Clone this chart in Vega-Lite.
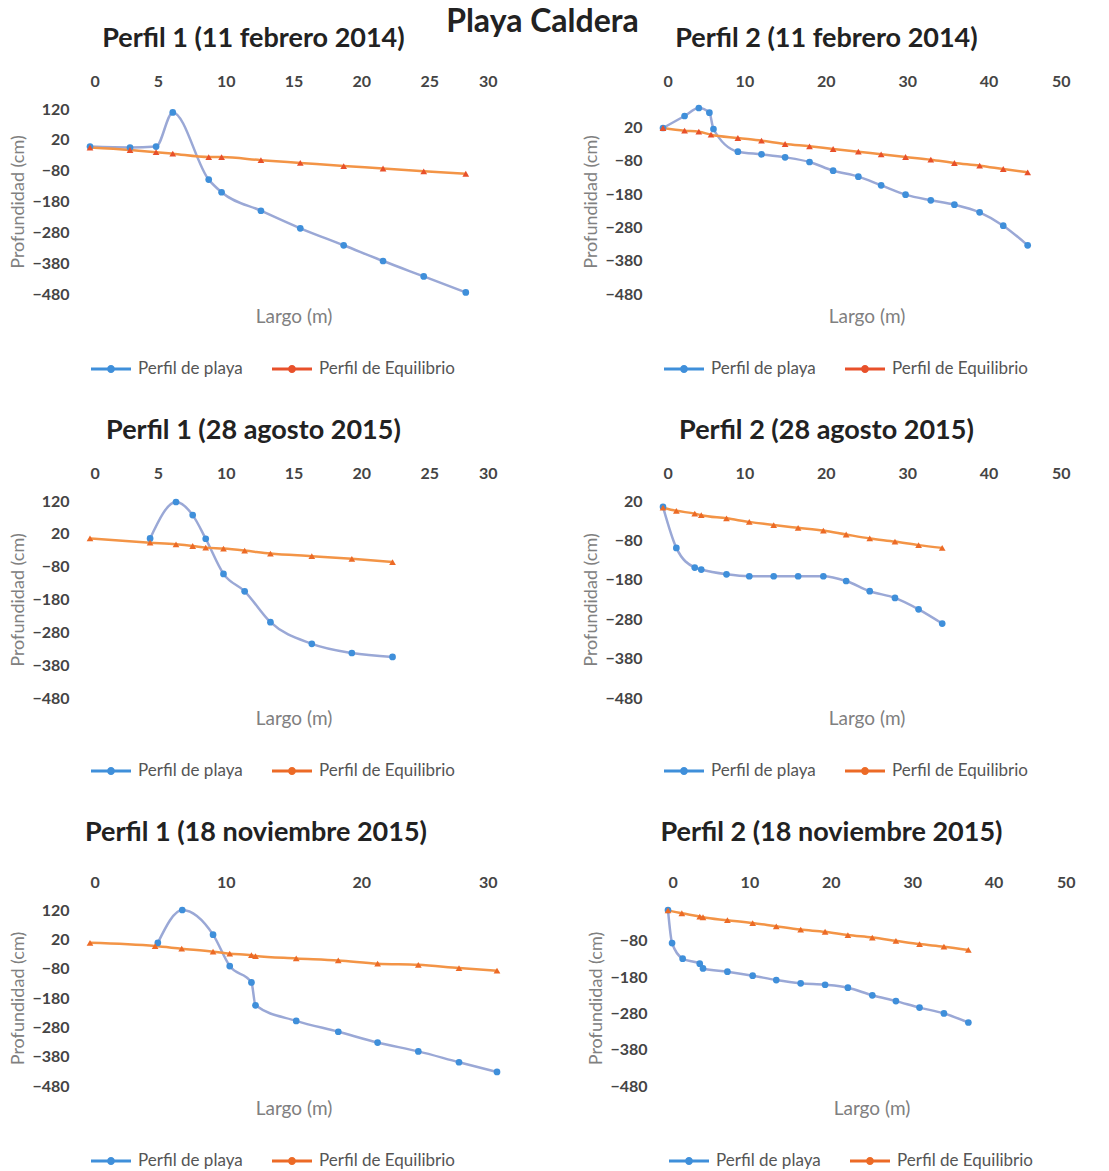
{
  "$schema": "https://vega.github.io/schema/vega-lite/v6.json",
  "padding": {"top": 6, "left": 9, "right": 5, "bottom": 2},
  "title": {"text": "Playa Caldera", "fontSize": 32, "font": "Lato", "fontWeight": "bold", "color": "#222", "anchor": "middle", "frame": "bounds", "offset": -14},
  "data": {"values": [
    {"p":1,"serie":"Perfil de playa","largo":0,"prof":-2},
    {"p":1,"serie":"Perfil de playa","largo":2.95,"prof":-5},
    {"p":1,"serie":"Perfil de playa","largo":4.87,"prof":-2},
    {"p":1,"serie":"Perfil de playa","largo":6.1,"prof":109},
    {"p":1,"serie":"Perfil de playa","largo":8.75,"prof":-109},
    {"p":1,"serie":"Perfil de playa","largo":9.7,"prof":-150},
    {"p":1,"serie":"Perfil de playa","largo":12.6,"prof":-210},
    {"p":1,"serie":"Perfil de playa","largo":15.5,"prof":-267},
    {"p":1,"serie":"Perfil de playa","largo":18.7,"prof":-322},
    {"p":1,"serie":"Perfil de playa","largo":21.6,"prof":-373},
    {"p":1,"serie":"Perfil de playa","largo":24.6,"prof":-423},
    {"p":1,"serie":"Perfil de playa","largo":27.7,"prof":-475},
    {"p":1,"serie":"Perfil de Equilibrio","largo":0,"prof":-5},
    {"p":1,"serie":"Perfil de Equilibrio","largo":2.95,"prof":-13},
    {"p":1,"serie":"Perfil de Equilibrio","largo":4.87,"prof":-20},
    {"p":1,"serie":"Perfil de Equilibrio","largo":6.1,"prof":-25},
    {"p":1,"serie":"Perfil de Equilibrio","largo":8.75,"prof":-36},
    {"p":1,"serie":"Perfil de Equilibrio","largo":9.7,"prof":-36},
    {"p":1,"serie":"Perfil de Equilibrio","largo":12.6,"prof":-46},
    {"p":1,"serie":"Perfil de Equilibrio","largo":15.5,"prof":-55},
    {"p":1,"serie":"Perfil de Equilibrio","largo":18.7,"prof":-65},
    {"p":1,"serie":"Perfil de Equilibrio","largo":21.6,"prof":-73},
    {"p":1,"serie":"Perfil de Equilibrio","largo":24.6,"prof":-82},
    {"p":1,"serie":"Perfil de Equilibrio","largo":27.7,"prof":-90},

    {"p":2,"serie":"Perfil de playa","largo":0,"prof":18},
    {"p":2,"serie":"Perfil de playa","largo":2.65,"prof":54},
    {"p":2,"serie":"Perfil de playa","largo":4.4,"prof":78},
    {"p":2,"serie":"Perfil de playa","largo":5.7,"prof":64},
    {"p":2,"serie":"Perfil de playa","largo":6.2,"prof":15},
    {"p":2,"serie":"Perfil de playa","largo":9.2,"prof":-53},
    {"p":2,"serie":"Perfil de playa","largo":12.1,"prof":-61},
    {"p":2,"serie":"Perfil de playa","largo":15,"prof":-70},
    {"p":2,"serie":"Perfil de playa","largo":18,"prof":-84},
    {"p":2,"serie":"Perfil de playa","largo":20.9,"prof":-110},
    {"p":2,"serie":"Perfil de playa","largo":24,"prof":-128},
    {"p":2,"serie":"Perfil de playa","largo":26.8,"prof":-154},
    {"p":2,"serie":"Perfil de playa","largo":29.8,"prof":-182},
    {"p":2,"serie":"Perfil de playa","largo":32.9,"prof":-199},
    {"p":2,"serie":"Perfil de playa","largo":35.8,"prof":-212},
    {"p":2,"serie":"Perfil de playa","largo":38.9,"prof":-235},
    {"p":2,"serie":"Perfil de playa","largo":41.8,"prof":-275},
    {"p":2,"serie":"Perfil de playa","largo":44.8,"prof":-334},
    {"p":2,"serie":"Perfil de Equilibrio","largo":0,"prof":18},
    {"p":2,"serie":"Perfil de Equilibrio","largo":2.65,"prof":10},
    {"p":2,"serie":"Perfil de Equilibrio","largo":4.4,"prof":7},
    {"p":2,"serie":"Perfil de Equilibrio","largo":5.9,"prof":-2},
    {"p":2,"serie":"Perfil de Equilibrio","largo":9.2,"prof":-12},
    {"p":2,"serie":"Perfil de Equilibrio","largo":12.1,"prof":-20},
    {"p":2,"serie":"Perfil de Equilibrio","largo":15,"prof":-30},
    {"p":2,"serie":"Perfil de Equilibrio","largo":18,"prof":-37},
    {"p":2,"serie":"Perfil de Equilibrio","largo":20.9,"prof":-45},
    {"p":2,"serie":"Perfil de Equilibrio","largo":24,"prof":-53},
    {"p":2,"serie":"Perfil de Equilibrio","largo":26.8,"prof":-61},
    {"p":2,"serie":"Perfil de Equilibrio","largo":29.8,"prof":-69},
    {"p":2,"serie":"Perfil de Equilibrio","largo":32.9,"prof":-77},
    {"p":2,"serie":"Perfil de Equilibrio","largo":35.8,"prof":-87},
    {"p":2,"serie":"Perfil de Equilibrio","largo":38.9,"prof":-95},
    {"p":2,"serie":"Perfil de Equilibrio","largo":41.8,"prof":-105},
    {"p":2,"serie":"Perfil de Equilibrio","largo":44.8,"prof":-115},

    {"p":3,"serie":"Perfil de playa","largo":4.43,"prof":6},
    {"p":3,"serie":"Perfil de playa","largo":6.34,"prof":117},
    {"p":3,"serie":"Perfil de playa","largo":7.57,"prof":77},
    {"p":3,"serie":"Perfil de playa","largo":8.53,"prof":5},
    {"p":3,"serie":"Perfil de playa","largo":9.84,"prof":-102},
    {"p":3,"serie":"Perfil de playa","largo":11.4,"prof":-155},
    {"p":3,"serie":"Perfil de playa","largo":13.3,"prof":-249},
    {"p":3,"serie":"Perfil de playa","largo":16.35,"prof":-315},
    {"p":3,"serie":"Perfil de playa","largo":19.3,"prof":-343},
    {"p":3,"serie":"Perfil de playa","largo":22.3,"prof":-355},
    {"p":3,"serie":"Perfil de Equilibrio","largo":0,"prof":6},
    {"p":3,"serie":"Perfil de Equilibrio","largo":4.43,"prof":-7},
    {"p":3,"serie":"Perfil de Equilibrio","largo":6.34,"prof":-12},
    {"p":3,"serie":"Perfil de Equilibrio","largo":7.57,"prof":-17},
    {"p":3,"serie":"Perfil de Equilibrio","largo":8.53,"prof":-22},
    {"p":3,"serie":"Perfil de Equilibrio","largo":9.84,"prof":-25},
    {"p":3,"serie":"Perfil de Equilibrio","largo":11.4,"prof":-31},
    {"p":3,"serie":"Perfil de Equilibrio","largo":13.3,"prof":-40},
    {"p":3,"serie":"Perfil de Equilibrio","largo":16.35,"prof":-48},
    {"p":3,"serie":"Perfil de Equilibrio","largo":19.3,"prof":-56},
    {"p":3,"serie":"Perfil de Equilibrio","largo":22.3,"prof":-66},

    {"p":4,"serie":"Perfil de playa","largo":0,"prof":5},
    {"p":4,"serie":"Perfil de playa","largo":1.64,"prof":-99},
    {"p":4,"serie":"Perfil de playa","largo":3.9,"prof":-149},
    {"p":4,"serie":"Perfil de playa","largo":4.7,"prof":-154},
    {"p":4,"serie":"Perfil de playa","largo":7.8,"prof":-166},
    {"p":4,"serie":"Perfil de playa","largo":10.6,"prof":-171},
    {"p":4,"serie":"Perfil de playa","largo":13.6,"prof":-171},
    {"p":4,"serie":"Perfil de playa","largo":16.6,"prof":-171},
    {"p":4,"serie":"Perfil de playa","largo":19.7,"prof":-171},
    {"p":4,"serie":"Perfil de playa","largo":22.5,"prof":-183},
    {"p":4,"serie":"Perfil de playa","largo":25.4,"prof":-209},
    {"p":4,"serie":"Perfil de playa","largo":28.5,"prof":-226},
    {"p":4,"serie":"Perfil de playa","largo":31.4,"prof":-255},
    {"p":4,"serie":"Perfil de playa","largo":34.3,"prof":-291},
    {"p":4,"serie":"Perfil de Equilibrio","largo":0,"prof":3},
    {"p":4,"serie":"Perfil de Equilibrio","largo":1.64,"prof":-5},
    {"p":4,"serie":"Perfil de Equilibrio","largo":3.9,"prof":-12},
    {"p":4,"serie":"Perfil de Equilibrio","largo":4.7,"prof":-16},
    {"p":4,"serie":"Perfil de Equilibrio","largo":7.8,"prof":-24},
    {"p":4,"serie":"Perfil de Equilibrio","largo":10.6,"prof":-33},
    {"p":4,"serie":"Perfil de Equilibrio","largo":13.6,"prof":-41},
    {"p":4,"serie":"Perfil de Equilibrio","largo":16.6,"prof":-48},
    {"p":4,"serie":"Perfil de Equilibrio","largo":19.7,"prof":-55},
    {"p":4,"serie":"Perfil de Equilibrio","largo":22.5,"prof":-65},
    {"p":4,"serie":"Perfil de Equilibrio","largo":25.4,"prof":-75},
    {"p":4,"serie":"Perfil de Equilibrio","largo":28.5,"prof":-83},
    {"p":4,"serie":"Perfil de Equilibrio","largo":31.4,"prof":-92},
    {"p":4,"serie":"Perfil de Equilibrio","largo":34.3,"prof":-99},

    {"p":5,"serie":"Perfil de playa","largo":5.0,"prof":8},
    {"p":5,"serie":"Perfil de playa","largo":6.8,"prof":120},
    {"p":5,"serie":"Perfil de playa","largo":9.07,"prof":36},
    {"p":5,"serie":"Perfil de playa","largo":10.3,"prof":-71},
    {"p":5,"serie":"Perfil de playa","largo":11.9,"prof":-127},
    {"p":5,"serie":"Perfil de playa","largo":12.2,"prof":-205},
    {"p":5,"serie":"Perfil de playa","largo":15.2,"prof":-258},
    {"p":5,"serie":"Perfil de playa","largo":18.3,"prof":-295},
    {"p":5,"serie":"Perfil de playa","largo":21.2,"prof":-332},
    {"p":5,"serie":"Perfil de playa","largo":24.2,"prof":-362},
    {"p":5,"serie":"Perfil de playa","largo":27.2,"prof":-399},
    {"p":5,"serie":"Perfil de playa","largo":30,"prof":-432},
    {"p":5,"serie":"Perfil de Equilibrio","largo":0,"prof":8},
    {"p":5,"serie":"Perfil de Equilibrio","largo":4.8,"prof":-3},
    {"p":5,"serie":"Perfil de Equilibrio","largo":6.76,"prof":-12},
    {"p":5,"serie":"Perfil de Equilibrio","largo":9.07,"prof":-22},
    {"p":5,"serie":"Perfil de Equilibrio","largo":10.3,"prof":-29},
    {"p":5,"serie":"Perfil de Equilibrio","largo":11.9,"prof":-34},
    {"p":5,"serie":"Perfil de Equilibrio","largo":12.2,"prof":-37},
    {"p":5,"serie":"Perfil de Equilibrio","largo":15.2,"prof":-45},
    {"p":5,"serie":"Perfil de Equilibrio","largo":18.3,"prof":-52},
    {"p":5,"serie":"Perfil de Equilibrio","largo":21.2,"prof":-63},
    {"p":5,"serie":"Perfil de Equilibrio","largo":24.2,"prof":-67},
    {"p":5,"serie":"Perfil de Equilibrio","largo":27.2,"prof":-78},
    {"p":5,"serie":"Perfil de Equilibrio","largo":30,"prof":-87},

    {"p":6,"serie":"Perfil de playa","largo":0,"prof":5},
    {"p":6,"serie":"Perfil de playa","largo":0.5,"prof":-86},
    {"p":6,"serie":"Perfil de playa","largo":1.8,"prof":-129},
    {"p":6,"serie":"Perfil de playa","largo":3.9,"prof":-143},
    {"p":6,"serie":"Perfil de playa","largo":4.3,"prof":-156},
    {"p":6,"serie":"Perfil de playa","largo":7.3,"prof":-165},
    {"p":6,"serie":"Perfil de playa","largo":10.4,"prof":-176},
    {"p":6,"serie":"Perfil de playa","largo":13.3,"prof":-188},
    {"p":6,"serie":"Perfil de playa","largo":16.3,"prof":-197},
    {"p":6,"serie":"Perfil de playa","largo":19.3,"prof":-201},
    {"p":6,"serie":"Perfil de playa","largo":22.1,"prof":-209},
    {"p":6,"serie":"Perfil de playa","largo":25.1,"prof":-230},
    {"p":6,"serie":"Perfil de playa","largo":28,"prof":-246},
    {"p":6,"serie":"Perfil de playa","largo":30.9,"prof":-264},
    {"p":6,"serie":"Perfil de playa","largo":33.9,"prof":-280},
    {"p":6,"serie":"Perfil de playa","largo":36.9,"prof":-305},
    {"p":6,"serie":"Perfil de Equilibrio","largo":0,"prof":4},
    {"p":6,"serie":"Perfil de Equilibrio","largo":1.7,"prof":-4},
    {"p":6,"serie":"Perfil de Equilibrio","largo":3.9,"prof":-13},
    {"p":6,"serie":"Perfil de Equilibrio","largo":4.3,"prof":-15},
    {"p":6,"serie":"Perfil de Equilibrio","largo":7.3,"prof":-23},
    {"p":6,"serie":"Perfil de Equilibrio","largo":10.4,"prof":-31},
    {"p":6,"serie":"Perfil de Equilibrio","largo":13.3,"prof":-40},
    {"p":6,"serie":"Perfil de Equilibrio","largo":16.3,"prof":-49},
    {"p":6,"serie":"Perfil de Equilibrio","largo":19.3,"prof":-55},
    {"p":6,"serie":"Perfil de Equilibrio","largo":22.1,"prof":-64},
    {"p":6,"serie":"Perfil de Equilibrio","largo":25.1,"prof":-71},
    {"p":6,"serie":"Perfil de Equilibrio","largo":28,"prof":-80},
    {"p":6,"serie":"Perfil de Equilibrio","largo":30.9,"prof":-89},
    {"p":6,"serie":"Perfil de Equilibrio","largo":33.9,"prof":-96},
    {"p":6,"serie":"Perfil de Equilibrio","largo":36.9,"prof":-105}
  ]},
  "spacing": 40,
  "resolve": {"scale": {"color": "independent", "fill": "independent", "shape": "independent"}},
  "vconcat": [
    {
      "spacing": 85,
      "resolve": {"scale": {"color": "independent", "fill": "independent", "shape": "independent"}},
      "hconcat": [
        {
          "title": "Perfil 1 (11 febrero 2014)",
          "width": 407, "height": 185,
          "transform": [{"filter": "datum.p == 1"}],
          "encoding": {
            "x": {"field": "largo", "type": "quantitative", "scale": {"domain": [0, 30], "nice": false}, "axis": {"orient": "top", "values": [0, 5, 10, 15, 20, 25, 30], "title": "Largo (m)", "titleY": 207}},
            "y": {"field": "prof", "type": "quantitative", "scale": {"domain": [-480, 120], "nice": false, "zero": false}, "axis": {"values": [120, 20, -80, -180, -280, -380, -480], "title": "Profundidad (cm)"}}
          },
          "layer": [
            {"mark": {"type": "line", "interpolate": "monotone", "strokeWidth": 2.5}, "encoding": {"color": {"field": "serie", "type": "nominal", "sort": ["Perfil de playa", "Perfil de Equilibrio"], "scale": {"range": ["#9AA8D6", "#F39446"]}, "legend": null}}},
            {"mark": {"type": "point", "filled": true, "size": 45, "opacity": 1, "strokeWidth": 0}, "encoding": {"fill": {"field": "serie", "type": "nominal", "scale": {"domain": ["Perfil de playa", "Perfil de Equilibrio"], "range": ["#3F8FDA", "#E8502A"]}, "legend": {"title": null}}, "shape": {"field": "serie", "type": "nominal", "sort": ["Perfil de playa", "Perfil de Equilibrio"], "scale": {"range": ["circle", "triangle-up"]}, "legend": null}}}
          ]
        },
        {
          "title": "Perfil 2 (11 febrero 2014)",
          "width": 407, "height": 185,
          "transform": [{"filter": "datum.p == 2"}],
          "encoding": {
            "x": {"field": "largo", "type": "quantitative", "scale": {"domain": [0, 50], "nice": false}, "axis": {"orient": "top", "values": [0, 10, 20, 30, 40, 50], "title": "Largo (m)", "titleY": 207}},
            "y": {"field": "prof", "type": "quantitative", "scale": {"domain": [-480, 75], "nice": false, "zero": false}, "axis": {"values": [20, -80, -180, -280, -380, -480], "title": "Profundidad (cm)"}}
          },
          "layer": [
            {"mark": {"type": "line", "interpolate": "monotone", "strokeWidth": 2.5}, "encoding": {"color": {"field": "serie", "type": "nominal", "sort": ["Perfil de playa", "Perfil de Equilibrio"], "scale": {"range": ["#9AA8D6", "#F39446"]}, "legend": null}}},
            {"mark": {"type": "point", "filled": true, "size": 45, "opacity": 1, "strokeWidth": 0}, "encoding": {"fill": {"field": "serie", "type": "nominal", "scale": {"domain": ["Perfil de playa", "Perfil de Equilibrio"], "range": ["#3F8FDA", "#E8502A"]}, "legend": {"title": null}}, "shape": {"field": "serie", "type": "nominal", "sort": ["Perfil de playa", "Perfil de Equilibrio"], "scale": {"range": ["circle", "triangle-up"]}, "legend": null}}}
          ]
        }
      ]
    },
    {
      "spacing": 85,
      "resolve": {"scale": {"color": "independent", "fill": "independent", "shape": "independent"}},
      "hconcat": [
        {
          "title": "Perfil 1 (28 agosto 2015)",
          "width": 407, "height": 197,
          "transform": [{"filter": "datum.p == 3"}],
          "encoding": {
            "x": {"field": "largo", "type": "quantitative", "scale": {"domain": [0, 30], "nice": false}, "axis": {"orient": "top", "values": [0, 5, 10, 15, 20, 25, 30], "title": "Largo (m)", "titleY": 217}},
            "y": {"field": "prof", "type": "quantitative", "scale": {"domain": [-480, 120], "nice": false, "zero": false}, "axis": {"values": [120, 20, -80, -180, -280, -380, -480], "title": "Profundidad (cm)"}}
          },
          "layer": [
            {"mark": {"type": "line", "interpolate": "monotone", "strokeWidth": 2.5}, "encoding": {"color": {"field": "serie", "type": "nominal", "sort": ["Perfil de playa", "Perfil de Equilibrio"], "scale": {"range": ["#9AA8D6", "#F39446"]}, "legend": null}}},
            {"mark": {"type": "point", "filled": true, "size": 45, "opacity": 1, "strokeWidth": 0}, "encoding": {"fill": {"field": "serie", "type": "nominal", "scale": {"domain": ["Perfil de playa", "Perfil de Equilibrio"], "range": ["#3F8FDA", "#EC6A26"]}, "legend": {"title": null}}, "shape": {"field": "serie", "type": "nominal", "sort": ["Perfil de playa", "Perfil de Equilibrio"], "scale": {"range": ["circle", "triangle-up"]}, "legend": null}}}
          ]
        },
        {
          "title": "Perfil 2 (28 agosto 2015)",
          "width": 407, "height": 197,
          "transform": [{"filter": "datum.p == 4"}],
          "encoding": {
            "x": {"field": "largo", "type": "quantitative", "scale": {"domain": [0, 50], "nice": false}, "axis": {"orient": "top", "values": [0, 10, 20, 30, 40, 50], "title": "Largo (m)", "titleY": 217}},
            "y": {"field": "prof", "type": "quantitative", "scale": {"domain": [-480, 20], "nice": false, "zero": false}, "axis": {"values": [20, -80, -180, -280, -380, -480], "title": "Profundidad (cm)"}}
          },
          "layer": [
            {"mark": {"type": "line", "interpolate": "monotone", "strokeWidth": 2.5}, "encoding": {"color": {"field": "serie", "type": "nominal", "sort": ["Perfil de playa", "Perfil de Equilibrio"], "scale": {"range": ["#9AA8D6", "#F39446"]}, "legend": null}}},
            {"mark": {"type": "point", "filled": true, "size": 45, "opacity": 1, "strokeWidth": 0}, "encoding": {"fill": {"field": "serie", "type": "nominal", "scale": {"domain": ["Perfil de playa", "Perfil de Equilibrio"], "range": ["#3F8FDA", "#EC6A26"]}, "legend": {"title": null}}, "shape": {"field": "serie", "type": "nominal", "sort": ["Perfil de playa", "Perfil de Equilibrio"], "scale": {"range": ["circle", "triangle-up"]}, "legend": null}}}
          ]
        }
      ]
    },
    {
      "spacing": 85,
      "resolve": {"scale": {"color": "independent", "fill": "independent", "shape": "independent"}},
      "hconcat": [
        {
          "title": {"text": "Perfil 1 (18 noviembre 2015)", "offset": 27},
          "width": 407, "height": 176,
          "transform": [{"filter": "datum.p == 5"}],
          "encoding": {
            "x": {"field": "largo", "type": "quantitative", "scale": {"domain": [0, 30], "nice": false}, "axis": {"orient": "top", "values": [0, 10, 20, 30], "title": "Largo (m)", "titleY": 198}},
            "y": {"field": "prof", "type": "quantitative", "scale": {"domain": [-480, 120], "nice": false, "zero": false}, "axis": {"values": [120, 20, -80, -180, -280, -380, -480], "title": "Profundidad (cm)"}}
          },
          "layer": [
            {"mark": {"type": "line", "interpolate": "monotone", "strokeWidth": 2.5}, "encoding": {"color": {"field": "serie", "type": "nominal", "sort": ["Perfil de playa", "Perfil de Equilibrio"], "scale": {"range": ["#9AA8D6", "#F39446"]}, "legend": null}}},
            {"mark": {"type": "point", "filled": true, "size": 45, "opacity": 1, "strokeWidth": 0}, "encoding": {"fill": {"field": "serie", "type": "nominal", "scale": {"domain": ["Perfil de playa", "Perfil de Equilibrio"], "range": ["#3F8FDA", "#EC6A26"]}, "legend": {"title": null}}, "shape": {"field": "serie", "type": "nominal", "sort": ["Perfil de playa", "Perfil de Equilibrio"], "scale": {"range": ["circle", "triangle-up"]}, "legend": null}}}
          ]
        },
        {
          "title": {"text": "Perfil 2 (18 noviembre 2015)", "offset": 27},
          "width": 407, "height": 176,
          "transform": [{"filter": "datum.p == 6"}],
          "encoding": {
            "x": {"field": "largo", "type": "quantitative", "scale": {"domain": [0, 50], "nice": false}, "axis": {"orient": "top", "values": [0, 10, 20, 30, 40, 50], "title": "Largo (m)", "titleY": 198}},
            "y": {"field": "prof", "type": "quantitative", "scale": {"domain": [-480, 5], "nice": false, "zero": false}, "axis": {"values": [-80, -180, -280, -380, -480], "title": "Profundidad (cm)"}}
          },
          "layer": [
            {"mark": {"type": "line", "interpolate": "monotone", "strokeWidth": 2.5}, "encoding": {"color": {"field": "serie", "type": "nominal", "sort": ["Perfil de playa", "Perfil de Equilibrio"], "scale": {"range": ["#9AA8D6", "#F39446"]}, "legend": null}}},
            {"mark": {"type": "point", "filled": true, "size": 45, "opacity": 1, "strokeWidth": 0}, "encoding": {"fill": {"field": "serie", "type": "nominal", "scale": {"domain": ["Perfil de playa", "Perfil de Equilibrio"], "range": ["#3F8FDA", "#EC6A26"]}, "legend": {"title": null}}, "shape": {"field": "serie", "type": "nominal", "sort": ["Perfil de playa", "Perfil de Equilibrio"], "scale": {"range": ["circle", "triangle-up"]}, "legend": null}}}
          ]
        }
      ]
    }
  ],
  "config": {
    "font": "Lato",
    "view": {"stroke": null},
    "title": {"font": "Lato", "fontSize": 27, "fontWeight": "bold", "color": "#222", "anchor": "middle", "frame": "bounds", "offset": 20},
    "axis": {"grid": false, "domain": false, "ticks": false, "labelFont": "Lato", "labelFontSize": 16, "labelFontWeight": "bold", "labelColor": "#444", "titleFont": "Lato", "titleFontSize": 18, "titleFontWeight": "normal", "titleColor": "#808080"},
    "axisX": {"labelPadding": 20, "titleBaseline": "middle", "titleAngle": 0, "titleFontSize": 19},
    "axisY": {"labelPadding": 21, "titlePadding": 4},
    "legend": {
      "orient": "bottom", "direction": "horizontal",
      "labelFont": "Lato", "labelFontSize": 17, "labelColor": "#555",
      "symbolType": "M-1,-0.07H1V0.07H-1Z M0.2,0A0.2,0.2,0,1,1,-0.2,0A0.2,0.2,0,1,1,0.2,0Z",
      "symbolSize": 1600,
      "columnPadding": 28, "labelOffset": 6, "offset": 22
    }
  }
}
